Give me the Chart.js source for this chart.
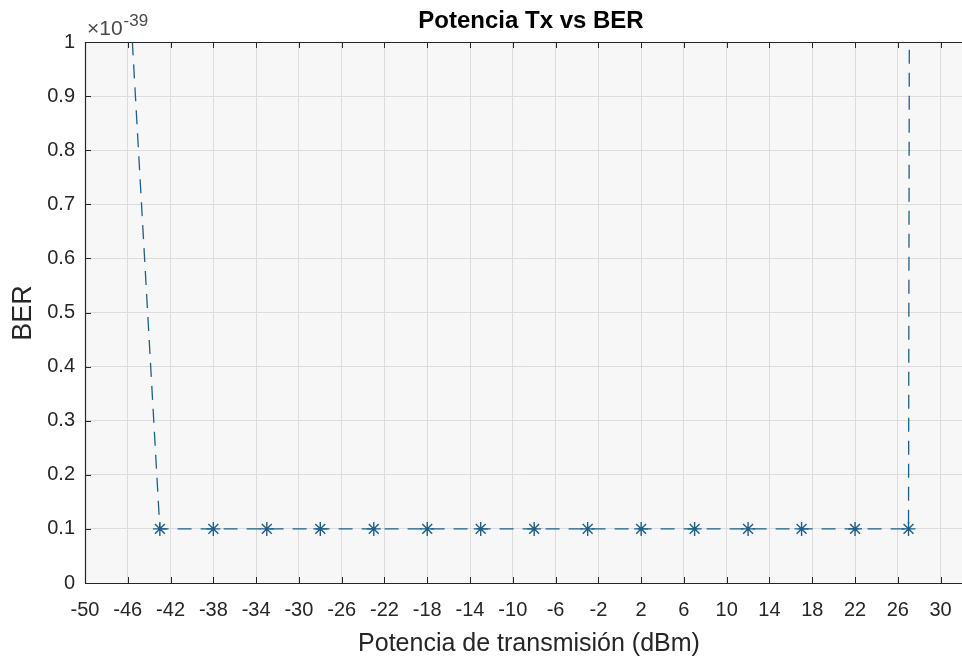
<!DOCTYPE html>
<html>
<head>
<meta charset="utf-8">
<title>Potencia Tx vs BER</title>
<script src="https://cdn.jsdelivr.net/npm/chart.js@4.4.0/dist/chart.umd.min.js"></script>
<style>
  html, body { margin: 0; padding: 0; background: #ffffff; }
  #wrap { width: 962px; height: 659px; position: relative; }
  canvas { display: block; }
</style>
</head>
<body>
<div id="wrap"><canvas id="c" width="962" height="659"></canvas></div>
<script>
// Transmit power sweep (dBm) and resulting BER, expressed in units of 1e-39
const powerDbm = [-48, -43, -38, -33, -28, -23, -18, -13, -8, -3, 2, 7, 12, 17, 22, 27, 32];
const berScaled = [1.85, 0.1, 0.1, 0.1, 0.1, 0.1, 0.1, 0.1, 0.1, 0.1, 0.1, 0.1, 0.1, 0.1, 0.1, 0.1, 1000];

// Axis ticks
const xTickValues = [-50, -46, -42, -38, -34, -30, -26, -22, -18, -14, -10, -6, -2, 2, 6, 10, 14, 18, 22, 26, 30];
const yTickValues = [0, 0.1, 0.2, 0.3, 0.4, 0.5, 0.6, 0.7, 0.8, 0.9, 1];

// Text
const chartTitle = 'Potencia Tx vs BER';
const xLabel = 'Potencia de transmisión (dBm)';
const yLabel = 'BER';
const yExponent = '-39';

const FONT = '"Liberation Sans", Arial, Helvetica, sans-serif';
const LINE_COLOR = '#1f5f86';
const AXIS_COLOR = '#262626';
const GRID_COLOR = '#dcdcdc';

// MATLAB-style axes: shaded plot box, frame, inward ticks and labels
const axesDecor = {
  id: 'axesDecor',
  beforeDraw(chart) {
    const { ctx, chartArea: a } = chart;
    ctx.save();
    ctx.fillStyle = '#f7f7f7';
    ctx.fillRect(a.left, a.top, a.right - a.left, a.bottom - a.top);
    ctx.restore();
  },
  afterDraw(chart) {
    const { ctx, chartArea: a, scales } = chart;
    const xs = scales.x, ys = scales.y;
    ctx.save();
    // frame
    ctx.strokeStyle = AXIS_COLOR;
    ctx.lineWidth = 1.2;
    ctx.beginPath();
    ctx.moveTo(a.left, a.bottom + 0.5);
    ctx.lineTo(a.right, a.bottom + 0.5);
    ctx.moveTo(a.left, a.top + 0.5);
    ctx.lineTo(a.right, a.top + 0.5);
    ctx.moveTo(a.left + 0.5, a.top);
    ctx.lineTo(a.left + 0.5, a.bottom);
    ctx.stroke();
    // inward tick marks
    const tl = 6;
    ctx.lineWidth = 1;
    ctx.beginPath();
    xTickValues.forEach(v => {
      const px = Math.round(xs.getPixelForValue(v)) + 0.5;
      ctx.moveTo(px, a.bottom);
      ctx.lineTo(px, a.bottom - tl);
      ctx.moveTo(px, a.top);
      ctx.lineTo(px, a.top + tl);
    });
    yTickValues.forEach(v => {
      const py = Math.round(ys.getPixelForValue(v)) + 0.5;
      ctx.moveTo(a.left, py);
      ctx.lineTo(a.left + tl, py);
    });
    ctx.stroke();

    // title
    ctx.fillStyle = '#000000';
    ctx.textAlign = 'center';
    ctx.textBaseline = 'alphabetic';
    ctx.font = 'bold 24px ' + FONT;
    ctx.fillText(chartTitle, 531, 28);

    // x label
    ctx.fillStyle = AXIS_COLOR;
    ctx.font = '25px ' + FONT;
    ctx.fillText(xLabel, 529, 651);

    // y label
    ctx.save();
    ctx.translate(31, 313);
    ctx.rotate(-Math.PI / 2);
    ctx.textAlign = 'center';
    ctx.font = '27px ' + FONT;
    ctx.fillText(yLabel, 0, 0);
    ctx.restore();

    // exponent
    ctx.fillStyle = '#4a4a4a';
    ctx.textAlign = 'left';
    ctx.font = '21px ' + FONT;
    ctx.fillText('\u00d710', 87, 35);
    const w = ctx.measureText('\u00d710').width;
    ctx.font = '17px ' + FONT;
    ctx.fillText(yExponent, 87 + w + 1, 26);
    ctx.restore();
  }
};

new Chart(document.getElementById('c'), {
  type: 'line',
  data: {
    datasets: [{
      label: 'BER',
      data: powerDbm.map((p, i) => ({ x: p, y: berScaled[i] })),
      borderColor: LINE_COLOR,
      backgroundColor: LINE_COLOR,
      borderWidth: 1.3,
      borderDash: [14, 9],
      tension: 0,
      fill: false,
      pointStyle: 'star',
      pointRadius: 7,
      pointBorderWidth: 1.4,
      pointBorderColor: LINE_COLOR,
      pointHoverRadius: 7,
      clip: 0
    }]
  },
  options: {
    responsive: false,
    devicePixelRatio: 1,
    animation: false,
    events: [],
    layout: { autoPadding: false, padding: { top: 42, right: 0, left: 0, bottom: 0 } },
    plugins: {
      legend: { display: false },
      title: { display: false },
      tooltip: { enabled: false }
    },
    scales: {
      x: {
        type: 'linear',
        min: -50,
        max: 32,
        afterBuildTicks: s => { s.ticks = xTickValues.map(v => ({ value: v })); },
        afterFit: s => { s.height = 76; s.paddingLeft = 0; s.paddingRight = 0; },
        grid: { color: GRID_COLOR, lineWidth: 1, drawTicks: false },
        border: { display: false },
        ticks: {
          autoSkip: false,
          maxRotation: 0,
          padding: 15,
          color: AXIS_COLOR,
          font: { family: FONT, size: 20 },
          callback: v => String(v)
        }
      },
      y: {
        type: 'linear',
        min: 0,
        max: 1,
        afterBuildTicks: s => { s.ticks = yTickValues.map(v => ({ value: v })); },
        afterFit: s => { s.width = 85; s.paddingTop = 0; s.paddingBottom = 0; },
        grid: { color: GRID_COLOR, lineWidth: 1, drawTicks: false },
        border: { display: false },
        ticks: {
          autoSkip: false,
          padding: 10,
          color: AXIS_COLOR,
          font: { family: FONT, size: 20 },
          callback: v => String(Math.round(v * 10) / 10)
        }
      }
    }
  },
  plugins: [axesDecor]
});
</script>
</body>
</html>
